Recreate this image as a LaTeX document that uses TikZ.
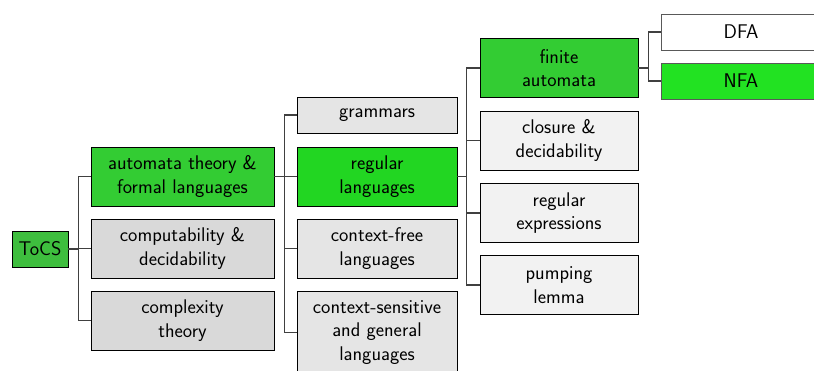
\documentclass[tikz,border=0pt]{standalone}
\usepackage{tikz}
\usetikzlibrary{backgrounds}

\definecolor{rootgreen}{RGB}{62,190,62}
\definecolor{midgreen}{RGB}{51,204,51}
\definecolor{lightgreen}{RGB}{34,214,34}
\definecolor{nfagreen}{RGB}{34,226,34}

\tikzset{
  box/.style={draw, line width=0.9pt, align=center, inner sep=0pt,
    font=\sffamily\fontsize{19.8}{23.5}\selectfont},
  lvlone/.style={box, minimum width=183, minimum height=59, fill=black!15},
  lvltwo/.style={box, minimum width=160, minimum height=59, fill=black!10},
  lvlthree/.style={box, minimum width=158, minimum height=59, fill=black!5},
  lvlfour/.style={box, draw=black!65, minimum width=160, minimum height=36, fill=white},
  branch/.style={line width=1.1pt, black!75},
}

\begin{document}
\begin{tikzpicture}[x=1pt,y=-1pt]
\useasboundingbox (0,0) rectangle (814,370);
\clip (0,0) rectangle (814,370);

% root
\node [box, minimum width=56, minimum height=36, fill=rootgreen] (tocs) at (40,249) {ToCS};

% first level
\node [lvlone, fill=midgreen] (automata) at (182.5,176.5) {automata theory \&\\formal languages};
\node [lvlone] (comput) at (182.5,248.5) {computability \&\\decidability};
\node [lvlone] (complex) at (182.5,320.5) {complexity\\theory};

% second level
\node [lvltwo, minimum height=36] (grammars) at (377,115) {grammars};
\node [lvltwo, fill=lightgreen] (regular) at (377,176.5) {regular\\languages};
\node [lvltwo] (cfree) at (377,248.5) {context-free\\languages};
\node [lvltwo, minimum height=83] (csens) at (377,332.5) {context-sensitive\\and general\\languages};

% third level
\node [lvlthree, fill=midgreen] (finite) at (559,68) {finite\\automata};
\node [lvlthree] (closure) at (559,140.5) {closure \&\\decidability};
\node [lvlthree] (regexp) at (559,213) {regular\\expressions};
\node [lvlthree] (pumping) at (559,285) {pumping\\lemma};

% fourth level
\node [lvlfour] (dfa) at (741,32) {DFA};
\node [lvlfour, fill=nfagreen] (nfa) at (741,81) {NFA};

% connectors
\foreach \c in {automata,comput,complex}
  \draw [branch] (tocs.east) -- ++(10,0) |- (\c.west);
\foreach \c in {grammars,regular,cfree,csens}
  \draw [branch] (automata.east) -- ++(10,0) |- (\c.west);
\foreach \c in {finite,closure,regexp,pumping}
  \draw [branch] (regular.east) -- ++(9,0) |- (\c.west);
\foreach \c in {dfa,nfa}
  \draw [branch] (finite.east) -- ++(10,0) |- (\c.west);
\end{tikzpicture}
\end{document}
